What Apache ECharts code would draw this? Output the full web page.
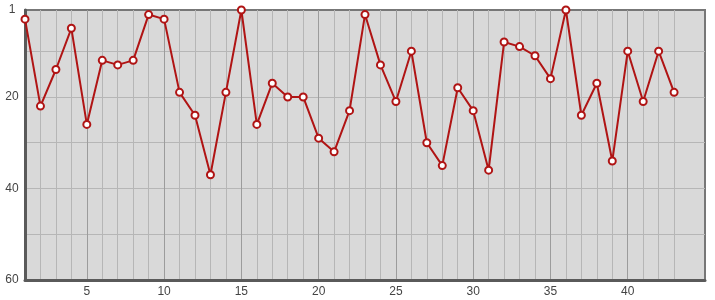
<!DOCTYPE html>
<html>
<head>
<meta charset="utf-8">
<script src="https://cdn.jsdelivr.net/npm/echarts@6/dist/echarts.min.js"></script>
<style>html,body{margin:0;padding:0;background:#fff}#c{width:715px;height:300px}</style>
</head>
<body>
<div id="c"></div>
<script>
const xValues = [1,2,3,4,5,6,7,8,9,10,11,12,13,14,15,16,17,18,19,20,21,22,23,24,25,26,27,28,29,30,31,32,33,34,35,36,37,38,39,40,41,42,43];
const rankValues = [3,22,14,5,26,12,13,12,2,3,19,24,37,19,1,26,17,20,20,29,32,23,2,13,21,10,30,35,18,23,36,8,9,11,16,1,24,17,34,10,21,10,19];
const xLabelTicks = [5,10,15,20,25,30,35,40];
const xMinorTicks = [1,2,3,4,6,7,8,9,11,12,13,14,16,17,18,19,21,22,23,24,26,27,28,29,31,32,33,34,36,37,38,39,41,42,43];
const yLabelTicks = [1,20,40,60];
const yGridTicks = [10,20,30,40,50];

const chart = echarts.init(document.getElementById('c'), null, {renderer:'canvas'});
const labelStyle = {color:'#444', fontFamily:'Liberation Sans, Arial, sans-serif', fontSize:12};
chart.setOption({
  animation:false,
  grid:{left:25, top:10, right:10, bottom:20, show:true, backgroundColor:'#d9d9d9', borderColor:'#777', borderWidth:2},
  xAxis:[
    {type:'value', min:1, max:45, position:'bottom',
     axisLine:{show:true, onZero:false, lineStyle:{color:'#5a5a5a', width:3}},
     axisTick:{show:false, customValues:xLabelTicks},
     axisLabel:Object.assign({customValues:xLabelTicks, margin:6}, labelStyle),
     splitLine:{show:true, lineStyle:{color:'#9c9c9c', width:1}}},
    {type:'value', min:1, max:45, position:'bottom',
     axisLine:{show:false}, axisLabel:{show:false},
     axisTick:{show:false, customValues:xMinorTicks},
     splitLine:{show:true, lineStyle:{color:'#b6b6b6', width:1}}}
  ],
  yAxis:{type:'value', min:1, max:60, inverse:true,
    axisLine:{show:true, onZero:false, lineStyle:{color:'#5a5a5a', width:3}},
    axisTick:{show:false, customValues:yGridTicks},
    axisLabel:Object.assign({customValues:yLabelTicks, align:'center', margin:13}, labelStyle),
    splitLine:{show:true, lineStyle:{color:'#b6b6b6', width:1}}},
  series:[{
    type:'line', xAxisIndex:0,
    data:xValues.map((x,i)=>[x, rankValues[i]]),
    lineStyle:{color:'#b01414', width:2},
    symbol:'circle', symbolSize:7,
    itemStyle:{color:'#ffffff', borderColor:'#b01414', borderWidth:2},
    z:5
  }]
});
</script>
</body>
</html>
